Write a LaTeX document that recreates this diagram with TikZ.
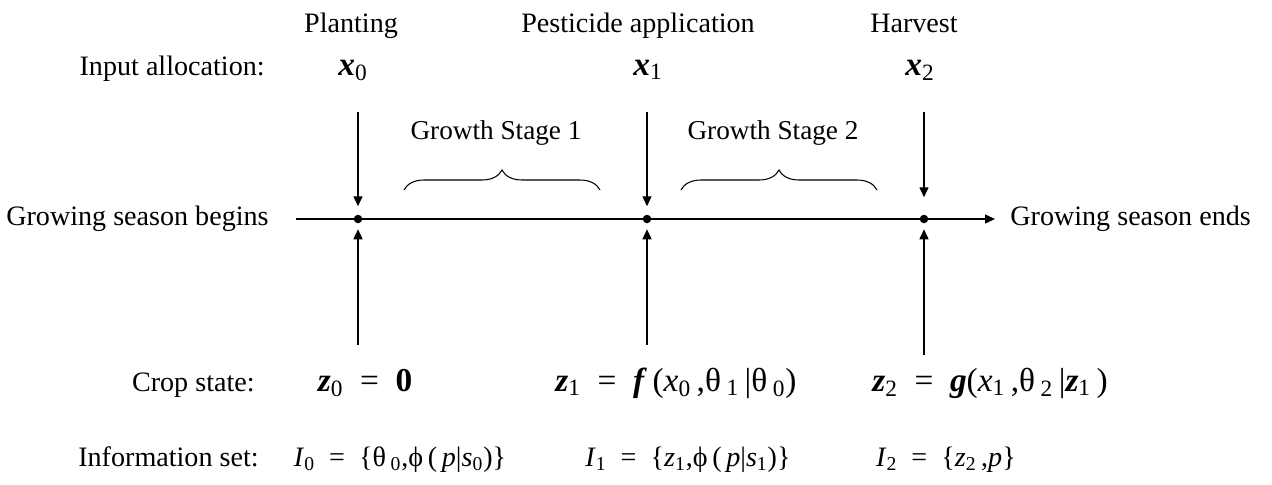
\documentclass[tikz,border=0pt]{standalone}
\usepackage{fontspec}
\setmainfont{Liberation Serif}
\usetikzlibrary{arrows.meta, decorations.pathreplacing}
\newcommand{\bvar}[1]{\textbf{\textit{#1}}}
\newcommand{\subidx}[1]{\textsubscript{#1}}

\begin{document}
\begin{tikzpicture}[x=0.02cm, y=-0.02cm, label style/.style={font=\fontsize{16}{19}\selectfont, inner sep=0pt}, stage style/.style={font=\fontsize{15.5}{18}\selectfont, inner sep=0pt}, var style/.style={font=\fontsize{19}{22}\selectfont, inner sep=0pt}, info style/.style={font=\fontsize{16}{19}\selectfont, inner sep=0pt}, dot style/.style={circle, fill=black, inner sep=0pt, outer sep=0pt, minimum size=0.17cm}, arrow style/.style={-{Triangle[length=0.2cm, width=0.18cm]}, line width=0.8pt}, brace style/.style={decorate, decoration={brace, amplitude=0.4cm}, line width=0.6pt}]

    \useasboundingbox (0,0) rectangle (1272,484);

    % =========================================================================
    % Eje temporal de la temporada
    % =========================================================================
    \node[dot style] (t0) at (358,219) {};
    \node[dot style] (t1) at (647,219) {};
    \node[dot style] (t2) at (924,219) {};
    \coordinate (start) at (296,219);
    \coordinate (end) at (995,219);
    \draw[arrow style] (start) -- (end);

    \node[label style, anchor=base east] (begins) at (269,225) {Growing season begins};
    \node[label style, anchor=base west] (ends) at (1010,225) {Growing season ends};

    % Eventos
    \node[label style, anchor=base] (planting) at (351,32) {Planting};
    \node[label style, anchor=base] (pesticide) at (638,32) {Pesticide application};
    \node[label style, anchor=base] (harvest) at (914,32) {Harvest};

    % =========================================================================
    % Asignacion de insumos (flechas hacia abajo)
    % =========================================================================
    \node[label style, anchor=base east] (input) at (265,75) {Input allocation:};
    \node[var style, anchor=base] (x0) at (353,75) {\bvar{x}\subidx{0}};
    \node[var style, anchor=base] (x1) at (648,75) {\bvar{x}\subidx{1}};
    \node[var style, anchor=base] (x2) at (920,75) {\bvar{x}\subidx{2}};

    \coordinate (in0) at (358,112);
    \coordinate (in1) at (647,112);
    \coordinate (in2) at (924,112);
    \draw[arrow style, shorten >=0.17cm] (in0) -- (t0);
    \draw[arrow style, shorten >=0.17cm] (in1) -- (t1);
    \draw[arrow style, shorten >=0.35cm] (in2) -- (t2);

    % Etapas de crecimiento
    \node[stage style, anchor=base] (stage1) at (496,139) {Growth Stage 1};
    \node[stage style, anchor=base] (stage2) at (773,139) {Growth Stage 2};
    \coordinate (b1l) at (404,190); \coordinate (b1r) at (600,190);
    \coordinate (b2l) at (681,190); \coordinate (b2r) at (877,190);
    \draw[brace style] (b1l) -- (b1r);
    \draw[brace style] (b2l) -- (b2r);

    % =========================================================================
    % Estado del cultivo (flechas hacia arriba)
    % =========================================================================
    \coordinate (st0) at (358,345);
    \coordinate (st1) at (647,345);
    \coordinate (st2) at (924,355);
    \draw[arrow style, shorten >=0.12cm] (st0) -- (t0);
    \draw[arrow style, shorten >=0.12cm] (st1) -- (t1);
    \draw[arrow style, shorten >=0.12cm] (st2) -- (t2);

    \node[label style, anchor=base east] (crop) at (255,391) {Crop state:};
    \node[var style, anchor=base] (z0) at (365,391) {\bvar{z}\subidx{0}\enspace=\enspace\textbf{0}};
    \node[var style, anchor=base] (z1) at (676,391) {\bvar{z}\subidx{1}\enspace=\enspace\bvar{f}\,(\textit{x}\subidx{0}\,,θ\,\subidx{1}\,|θ\,\subidx{0})};
    \node[var style, anchor=base] (z2) at (990,391) {\bvar{z}\subidx{2}\enspace=\enspace\bvar{g}(\textit{x}\subidx{1}\,,θ\,\subidx{2}\,|\bvar{z}\subidx{1}\,)};

    % Conjunto de informacion
    \node[label style, anchor=base east] (info) at (259,466) {Information set:};
    \node[info style, anchor=base] (i0) at (400,466) {\textit{I}\subidx{0}\enspace=\enspace\{θ\,\subidx{0},ϕ\,(\,\textit{p}|\textit{s}\subidx{0})\}};
    \node[info style, anchor=base] (i1) at (688,466) {\textit{I}\subidx{1}\enspace=\enspace\{\textit{z}\subidx{1},ϕ\,(\,\textit{p}|\textit{s}\subidx{1})\}};
    \node[info style, anchor=base] (i2) at (946,466) {\textit{I}\subidx{2}\enspace=\enspace\{\textit{z}\subidx{2}\,,\textit{p}\}};

\end{tikzpicture}
\end{document}
